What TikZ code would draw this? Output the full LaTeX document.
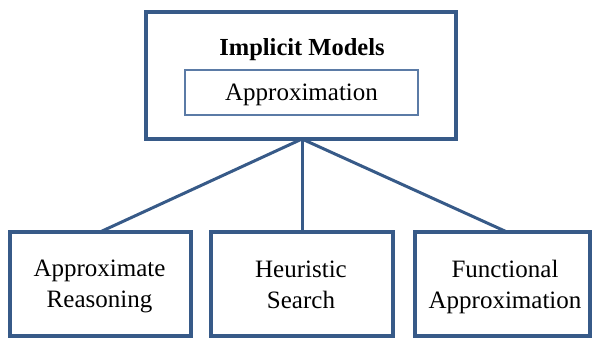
\documentclass[tikz,border=0pt]{standalone}
\usepackage{fontspec}
\setmainfont{Liberation Serif}
\definecolor{boxblue}{HTML}{375A88}
\definecolor{innerblue}{HTML}{5B7BA6}
\begin{document}
\begin{tikzpicture}[x=1pt,y=-1pt,
  bigbox/.style={draw=boxblue,line width=3.5pt,fill=white},
  innerbox/.style={draw=innerblue,line width=1.1pt},
  link/.style={draw=boxblue,line width=3pt},
  txt/.style={font=\fontsize{25}{31}\selectfont,align=center,inner sep=0pt}]
\useasboundingbox (0,0) rectangle (593,342);
% connectors
\coordinate (apex) at (302,139);
\coordinate (e1) at (100,232);
\coordinate (e2) at (302,232);
\coordinate (e3) at (507,232);
\draw[link] (apex) -- (e1);
\draw[link] (apex) -- (e2);
\draw[link] (apex) -- (e3);
% top box
\draw[bigbox] (146,12) rectangle (456,139);
\node[txt,font=\fontsize{24.5}{30}\selectfont\bfseries] (title) at (302,49.3) {Implicit Models};
\node[innerbox,minimum width=233pt,minimum height=45pt,inner sep=0pt] (approx) at (301.5,92.5) {};
\node[txt] (approxt) at (301.5,94.7) {Approximation};
% bottom boxes
\draw[bigbox] (10,232) rectangle (191,336);
\draw[bigbox] (211,232) rectangle (393,336);
\draw[bigbox] (415,232) rectangle (590,336);
\node[txt] (b1) at (99.5,286.7) {Approximate\\Reasoning};
\node[txt] (b2) at (301,284.5) {Heuristic\\Search};
\node[txt] (b3) at (505,286.7) {Functional\\Approximation};
\end{tikzpicture}
\end{document}
